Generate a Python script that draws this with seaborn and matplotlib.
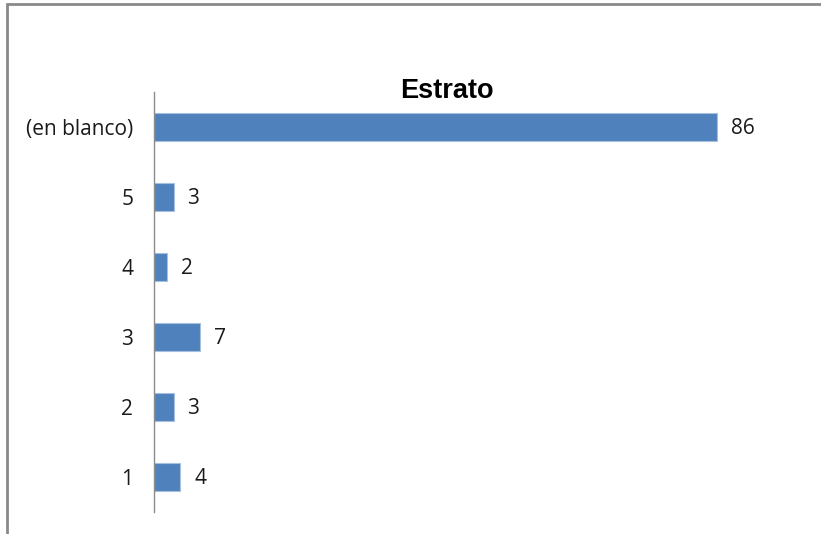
import matplotlib
matplotlib.use("Agg")
import matplotlib.pyplot as plt
import seaborn as sns
import pandas as pd
from matplotlib.patches import Rectangle

categories = ["(en blanco)", "5", "4", "3", "2", "1"]
values = [86, 3, 2, 7, 3, 4]
title = "Estrato"

df = pd.DataFrame({"cat": categories, "val": values})

sns.set_theme(style="white")
plt.rcParams['font.family'] = ['Open Sans', 'DejaVu Sans']

W, H = 821, 534
fig = plt.figure(figsize=(W / 100, H / 100), dpi=100)
ax = fig.add_axes([154 / W, 1 - 512 / H, (740 - 154) / W, (512 - 92) / H])

sns.barplot(data=df, x="val", y="cat", orient="h", order=categories,
            color="#4F81BD", saturation=1, width=0.39,
            edgecolor="#A7C0E0", linewidth=0.8, ax=ax)

ax.set_xlim(0, 89.5)
ax.set_ylim(5.5, -0.5)
ax.set_xlabel("")
ax.set_ylabel("")
ax.set_xticks([])
for s in ["top", "right", "bottom"]:
    ax.spines[s].set_visible(False)
ax.spines["left"].set_color("#8c8c8c")
ax.spines["left"].set_linewidth(1.0)
ax.tick_params(axis="y", length=0, pad=15, labelsize=15, labelcolor="#1a1a1a")

for i, v in enumerate(values):
    ax.annotate(str(v), xy=(v, i), xytext=(10, -1), textcoords="offset points",
                ha="left", va="center", fontsize=15, color="#1a1a1a")

fig.text(447 / W, 1 - 98 / H, title, ha="center", va="baseline",
         fontsize=19.5, fontweight="bold", color="black",
         family=["Liberation Sans Narrow", "Liberation Sans", "DejaVu Sans"])

fig.patches.append(Rectangle((6.5 / W, -0.1), 1.2, 1.1 - 4.5 / H,
                             transform=fig.transFigure, fill=False,
                             edgecolor="#8a8a8a", linewidth=2, figure=fig))

fig.savefig("out.png", dpi=100, facecolor="white")
